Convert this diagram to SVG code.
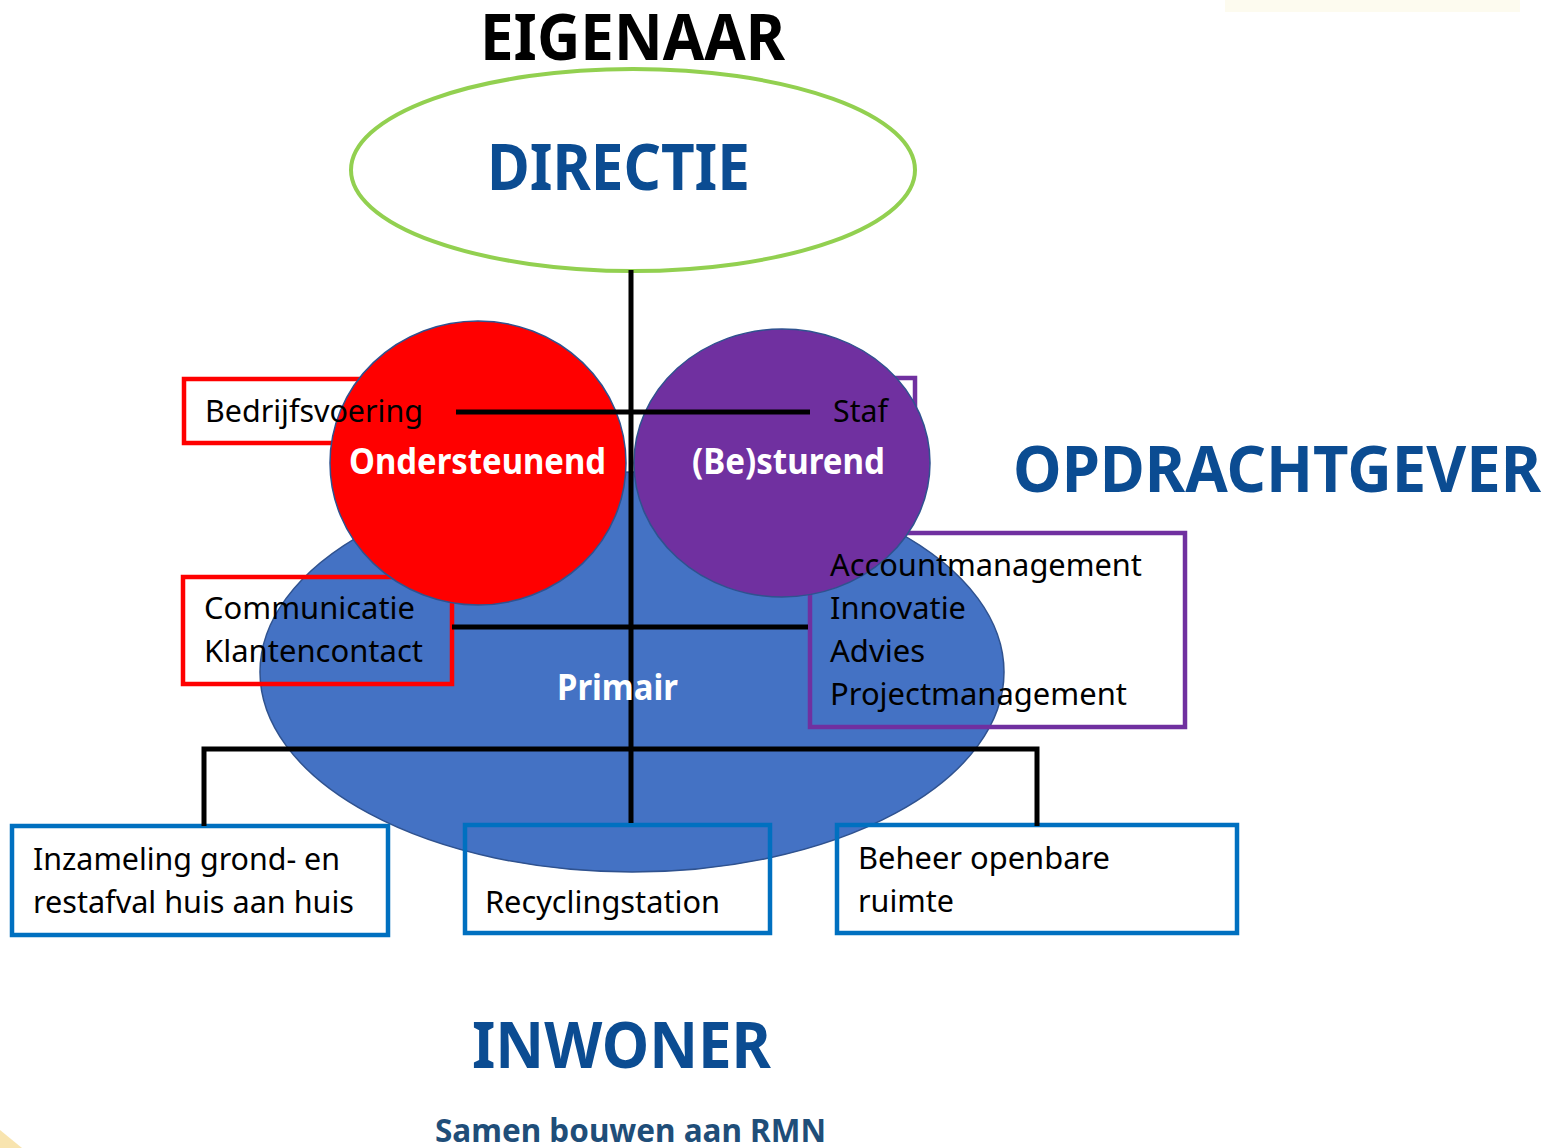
<svg xmlns="http://www.w3.org/2000/svg" width="1551" height="1148" viewBox="0 0 1551 1148">
<style>
.t{font-family:"Noto Sans","Open Sans",sans-serif;font-size:30px;fill:#000}
.w{font-family:"Noto Sans","Open Sans",sans-serif;font-size:35px;font-weight:bold;fill:#fff}
.h{font-family:"Noto Sans","Open Sans",sans-serif;font-size:64px;font-weight:bold;fill:#0B4C92}
.red{fill:none;stroke:#FF0000;stroke-width:4.5}
.pur{fill:none;stroke:#7030A0;stroke-width:4.5}
.blu{fill:none;stroke:#0070C0;stroke-width:4.5}
.ln{stroke:#000;stroke-width:5;fill:none}
</style>
<rect width="1551" height="1148" fill="#fff"/>
<rect x="1225" y="0" width="295" height="12" fill="#FDFBEF"/>
<path d="M0 1130 L22 1148 L0 1148 Z" fill="#F4D27A" opacity="0.6"/>

<g id="eigenaar"><text class="h" x="480" y="60" textLength="305" lengthAdjust="spacingAndGlyphs" style="fill:#000">EIGENAAR</text></g>

<g id="directie">
<ellipse cx="633" cy="170" rx="282" ry="101" fill="#fff" stroke="#92D050" stroke-width="4"/>
<text class="h" x="487" y="190" textLength="263" lengthAdjust="spacingAndGlyphs">DIRECTIE</text>
</g>

<g id="primair">
<ellipse cx="632" cy="672" rx="372" ry="200" fill="#4472C4" stroke="#2F528F" stroke-width="1.5"/>
</g>

<g id="boxes">
<rect id="bedrijfsvoering-box" x="184" y="379" width="290" height="64" class="red"/>
<rect id="communicatie-box" x="183" y="577" width="269" height="107" class="red"/>
<rect id="staf-box" x="810" y="378" width="105" height="70" class="pur"/>
<rect id="account-box" x="810" y="533" width="375" height="194" class="pur"/>
<rect id="inzameling-box" x="12" y="826" width="376" height="109" class="blu"/>
<rect id="recycling-box" x="465" y="825" width="305" height="108" class="blu"/>
<rect id="beheer-box" x="837" y="825" width="400" height="108" class="blu"/>
</g>

<g id="ondersteunend">
<ellipse cx="478" cy="463" rx="148" ry="142" fill="#FF0000" stroke="#2F528F" stroke-width="1.5"/>
</g>
<g id="besturend">
<ellipse cx="782" cy="463" rx="148" ry="134" fill="#7030A0" stroke="#2F528F" stroke-width="1.5"/>
</g>

<g id="connectors">
<line class="ln" x1="631" y1="270" x2="631" y2="823"/>
<line class="ln" x1="456" y1="412" x2="810" y2="412"/>
<line class="ln" x1="452" y1="627" x2="808" y2="627"/>
<polyline class="ln" points="204,826 204,749 1037,749 1037,826"/>
</g>

<g id="labels">
<text class="t" x="205" y="422" textLength="218" lengthAdjust="spacingAndGlyphs">Bedrijfsvoering</text>
<text class="w" x="349" y="474" textLength="257" lengthAdjust="spacingAndGlyphs">Ondersteunend</text>
<text class="t" x="833" y="422" textLength="55" lengthAdjust="spacingAndGlyphs">Staf</text>
<text class="w" x="692" y="474" textLength="193" lengthAdjust="spacingAndGlyphs">(Be)sturend</text>
<text class="t" x="204" y="619" textLength="211" lengthAdjust="spacingAndGlyphs">Communicatie</text>
<text class="t" x="204" y="662" textLength="219" lengthAdjust="spacingAndGlyphs">Klantencontact</text>
<text class="w" x="557" y="700" textLength="121" lengthAdjust="spacingAndGlyphs">Primair</text>
<text class="t" x="830" y="576" textLength="312" lengthAdjust="spacingAndGlyphs">Accountmanagement</text>
<text class="t" x="830" y="619" textLength="136" lengthAdjust="spacingAndGlyphs">Innovatie</text>
<text class="t" x="830" y="662" textLength="95" lengthAdjust="spacingAndGlyphs">Advies</text>
<text class="t" x="830" y="705" textLength="297" lengthAdjust="spacingAndGlyphs">Projectmanagement</text>
<text class="t" x="33" y="870" textLength="307" lengthAdjust="spacingAndGlyphs">Inzameling grond- en</text>
<text class="t" x="33" y="913" textLength="321" lengthAdjust="spacingAndGlyphs">restafval huis aan huis</text>
<text class="t" x="485" y="913" textLength="235" lengthAdjust="spacingAndGlyphs">Recyclingstation</text>
<text class="t" x="858" y="869" textLength="252" lengthAdjust="spacingAndGlyphs">Beheer openbare</text>
<text class="t" x="858" y="912" textLength="96" lengthAdjust="spacingAndGlyphs">ruimte</text>
</g>

<g id="opdrachtgever"><text class="h" x="1013" y="492" textLength="528" lengthAdjust="spacingAndGlyphs">OPDRACHTGEVER</text></g>
<g id="inwoner"><text class="h" x="472" y="1068" textLength="299" lengthAdjust="spacingAndGlyphs">INWONER</text></g>
<g id="slogan"><text x="435" y="1142" textLength="391" lengthAdjust="spacingAndGlyphs" style="font-family:'Noto Sans','Open Sans',sans-serif;font-size:33px;font-weight:bold;fill:#1F4E79">Samen bouwen aan RMN</text></g>
</svg>
